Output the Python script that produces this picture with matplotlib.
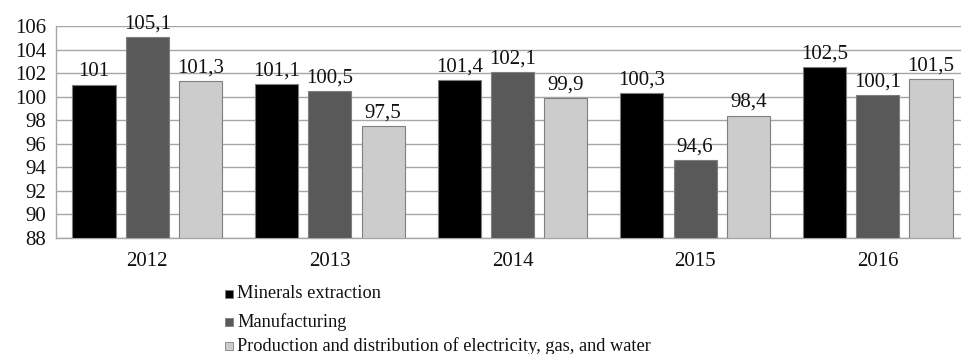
import matplotlib
matplotlib.use("Agg")
import matplotlib.pyplot as plt
from matplotlib.patches import Rectangle
import numpy as np

years = ["2012", "2013", "2014", "2015", "2016"]
minerals = [101.0, 101.1, 101.4, 100.3, 102.5]
manufacturing = [105.1, 100.5, 102.1, 94.6, 100.1]
utilities = [101.3, 97.5, 99.9, 98.4, 101.5]
series_names = [
    "Minerals extraction",
    "Manufacturing",
    "Production and distribution of electricity, gas, and water",
]
colors = ["#000000", "#595959", "#cccccc"]
yticks = list(range(88, 107, 2))

plt.rcParams["font.family"] = ["Liberation Serif", "DejaVu Serif"]

fig = plt.figure(figsize=(9.61, 3.54), dpi=100)
W, H = 961, 354
ax = fig.add_axes([56 / W, 1 - 238 / H, (969 - 56) / W, (238 - 26) / H])

x = np.arange(len(years))
step = 0.292
width = 0.236
all_series = [minerals, manufacturing, utilities]
for k, (vals, col) in enumerate(zip(all_series, colors)):
    pos = x + (k - 1) * step
    ax.bar(pos, [v - 88 for v in vals], bottom=88, width=width,
           color=col, edgecolor="#7f7f7f", linewidth=0.8, zorder=3)
    for p, v in zip(pos, vals):
        txt = (f"{v:.1f}".rstrip("0").rstrip(".")).replace(".", ",")
        ax.text(p, v + 0.3, txt, ha="center", va="bottom",
                fontsize=15, color="#111111", zorder=4)

ax.set_xlim(-0.5, len(years) - 0.5)
ax.set_ylim(88, 106)
ax.set_yticks(yticks)
ax.set_yticklabels([str(t) for t in yticks], fontsize=15)
ax.set_xticks(x)
ax.set_xticklabels(years, fontsize=15)
ax.tick_params(axis="both", length=0, colors="#111111")
ax.tick_params(axis="y", pad=7)
ax.tick_params(axis="x", pad=10)
ax.yaxis.grid(True, color="#a6a6a6", linewidth=1.0, zorder=0)
for side in ["top", "right"]:
    ax.spines[side].set_visible(False)
for side in ["left", "bottom"]:
    ax.spines[side].set_color("#a6a6a6")
    ax.spines[side].set_linewidth(1.0)

# legend drawn below the axes as stacked entries
legend_y = [294, 322, 346]
for name, col, ly in zip(series_names, colors, legend_y):
    fig.patches.append(Rectangle((225 / W, 1 - (ly + 4) / H), 8 / W, 8 / H,
                                 transform=fig.transFigure, facecolor=col,
                                 edgecolor="#7f7f7f", linewidth=0.6))
    fig.text(237 / W, 1 - ly / H, name, ha="left", va="center",
             fontsize=13.2, color="#111111")

fig.savefig("out.png", dpi=100)
